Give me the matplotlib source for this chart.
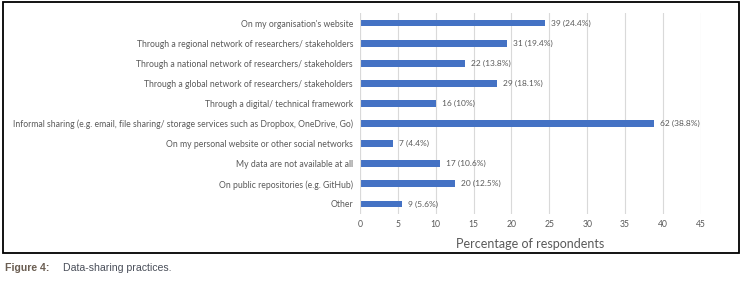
import matplotlib
matplotlib.use('Agg')
import matplotlib.pyplot as plt
from matplotlib.patches import Rectangle

categories = ["On my organisation's website",
              'Through a regional network of researchers/ stakeholders',
              'Through a national network of researchers/ stakeholders',
              'Through a global network of researchers/ stakeholders',
              'Through a digital/ technical framework',
              'Informal sharing (e.g. email, file sharing/ storage services such as Dropbox, OneDrive, Go)',
              'On my personal website or other social networks',
              'My data are not available at all',
              'On public repositories (e.g. GitHub)',
              'Other']
counts = [39, 31, 22, 29, 16, 62, 7, 17, 20, 9]
percents = [24.4, 19.4, 13.8, 18.1, 10, 38.8, 4.4, 10.6, 12.5, 5.6]
pct_labels = ['24.4%', '19.4%', '13.8%', '18.1%', '10%', '38.8%', '4.4%', '10.6%', '12.5%', '5.6%']
xticks = [0, 5, 10, 15, 20, 25, 30, 35, 40, 45]

grey = '#595959'
plt.rcParams['font.family'] = ['Lato', 'DejaVu Sans']

fig = plt.figure(figsize=(7.47, 2.88), dpi=100)
ax = fig.add_axes([0.482, 0.257, 0.456, 0.698])

ypos = list(range(len(categories)))
ax.barh(ypos, percents, height=0.34, color='#4472C4', zorder=3)
for y, p, c, lab in zip(ypos, percents, counts, pct_labels):
    ax.text(p + 0.8, y, '%d (%s)' % (c, lab), va='center', ha='left',
            fontsize=6, color=grey)

ax.set_xlim(0, 45)
ax.set_ylim(len(categories) - 0.5, -0.5)
ax.set_yticks(ypos)
ax.set_yticklabels(categories, fontsize=6.2, color=grey)
ax.set_xticks(xticks)
ax.set_xticklabels([str(t) for t in xticks], fontsize=6.2, color=grey)
ax.tick_params(length=0)
ax.tick_params(axis='x', pad=4)
ax.tick_params(axis='y', pad=5)
ax.xaxis.grid(True, color='#d9d9d9', linewidth=0.8, zorder=0)
for s in ax.spines.values():
    s.set_visible(False)
ax.axvline(0, color='#d9d9d9', linewidth=0.8, zorder=4)
ax.set_xlabel('Percentage of respondents', fontsize=9, color=grey, labelpad=7)

# frame round the chart
fig.patches.append(Rectangle((3 / 747, 1 - 253 / 288), 736 / 747, 251 / 288,
                             transform=fig.transFigure, fill=False,
                             edgecolor='black', linewidth=1.3))

fig.text(5 / 747, 1 - 268 / 288, 'Figure 4:', fontsize=7.6, fontweight='bold',
         color='#6b5e52', va='center', family=['Liberation Sans', 'DejaVu Sans'])
fig.text(63 / 747, 1 - 268 / 288, 'Data-sharing practices.', fontsize=7.6,
         color='#4a4f5a', va='center', family=['Liberation Sans', 'DejaVu Sans'])

fig.savefig('out.png', dpi=100)
